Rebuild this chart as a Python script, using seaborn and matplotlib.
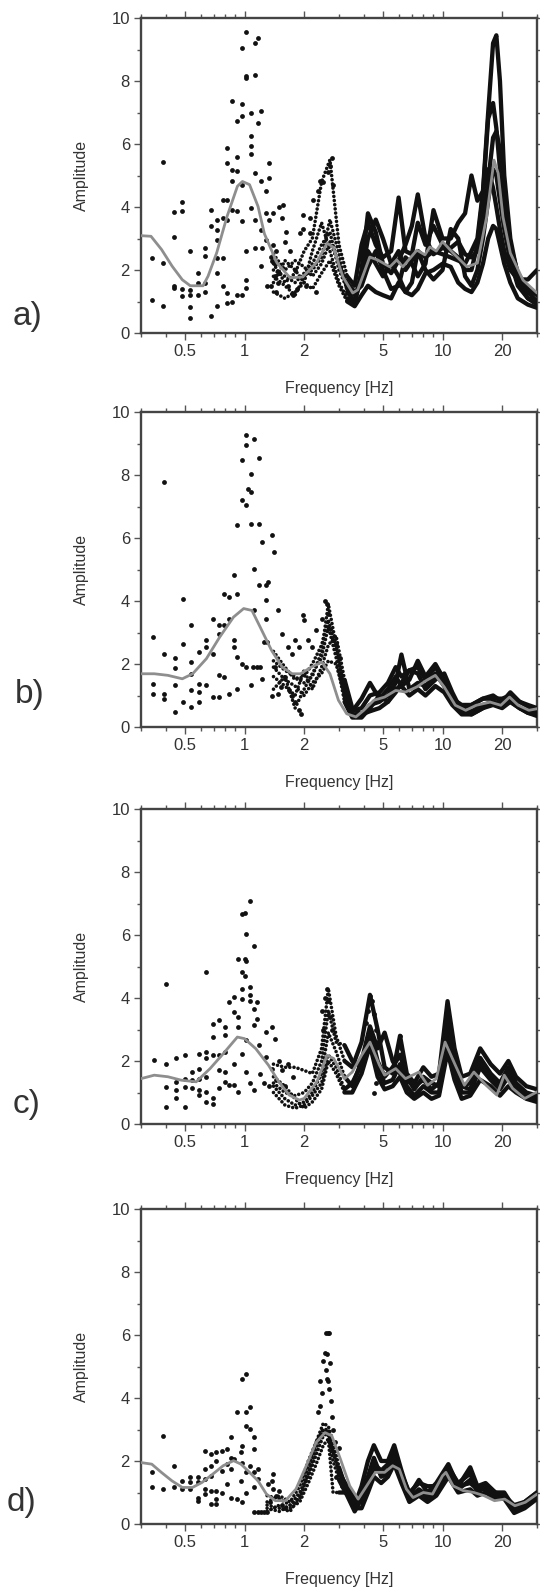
import matplotlib
matplotlib.use("Agg")
import matplotlib.pyplot as plt
import pandas as pd
import seaborn as sns
from matplotlib.ticker import FixedLocator, FixedFormatter, NullFormatter

sns.set_style("ticks")
plt.rcParams["font.family"] = ["Liberation Sans", "DejaVu Sans"]

# ---------------------------------------------------------------- panel a
# individual low-frequency spectral ratio samples (Hz, amplitude)
a_dots = [
    (0.341, 2.38), (0.341, 1.06), (0.389, 5.43), (0.389, 2.22), (0.389, 0.87),
    (0.439, 3.84), (0.439, 3.05), (0.439, 1.48), (0.439, 1.43), (0.485, 4.16),
    (0.485, 3.86), (0.485, 1.40), (0.485, 1.16), (0.532, 2.59), (0.532, 1.38),
    (0.532, 1.22), (0.532, 0.83), (0.532, 0.48), (0.585, 1.90), (0.585, 1.59),
    (0.585, 1.22), (0.634, 2.70), (0.634, 2.43), (0.634, 1.59), (0.634, 1.29),
    (0.681, 3.92), (0.681, 3.39), (0.681, 0.53), (0.723, 3.60), (0.723, 3.28),
    (0.723, 2.96), (0.723, 2.38), (0.723, 1.90), (0.723, 0.85), (0.776, 3.65),
    (0.776, 4.23), (0.776, 2.38), (0.776, 1.48), (0.816, 5.87), (0.816, 5.40),
    (0.816, 4.23), (0.816, 3.60), (0.816, 1.27), (0.816, 0.95), (0.868, 7.35),
    (0.868, 5.16), (0.868, 4.81), (0.868, 3.92), (0.868, 1.00), (0.921, 6.72),
    (0.921, 5.60), (0.921, 5.13), (0.921, 3.86), (0.921, 1.22), (0.971, 9.05),
    (0.971, 7.28), (0.971, 6.88), (0.971, 4.71), (0.971, 3.54), (0.971, 1.22),
    (1.017, 9.55), (1.017, 8.15), (1.017, 8.10), (1.017, 2.59), (1.017, 1.69),
    (1.017, 1.43), (1.08, 6.98), (1.08, 6.24), (1.08, 5.93), (1.08, 5.69),
    (1.08, 3.97), (1.124, 9.20), (1.124, 8.20), (1.124, 5.08), (1.124, 3.60),
    (1.124, 2.70), (1.17, 9.37), (1.17, 6.67), (1.218, 7.04), (1.218, 4.81),
    (1.218, 3.28), (1.218, 2.12), (1.22, 2.70), (1.28, 4.50), (1.28, 3.81),
    (1.28, 2.96), (1.30, 1.48), (1.33, 5.40), (1.33, 4.92), (1.33, 3.60),
    (1.37, 2.27), (1.36, 2.40), (1.36, 1.50), (1.39, 3.80), (1.40, 2.80),
    (1.43, 1.80), (1.42, 2.20), (1.45, 2.60), (1.45, 1.30), (1.48, 1.60),
    (1.50, 1.90), (1.50, 4.00), (1.55, 3.65), (1.57, 4.06), (1.60, 2.90),
    (1.62, 3.20), (1.65, 1.50), (1.70, 2.60), (1.75, 1.20), (1.80, 2.00),
    (1.85, 1.40), (1.91, 3.17), (1.97, 3.30), (1.97, 3.76), (2.05, 1.50),
    (2.14, 3.65), (2.14, 3.17), (2.23, 4.23), (2.30, 1.30), (2.35, 4.50),
    (2.41, 4.81), (2.50, 4.80), (2.63, 5.10), (2.70, 5.30), (2.75, 5.55),
    (2.80, 4.70),
]
# station curves sampled on a common frequency grid
a_grid = [1.4, 1.6, 1.8, 2.0, 2.2, 2.45, 2.7, 3.0, 3.3, 3.6, 3.9, 4.2, 4.6,
          5.0, 5.5, 6.0, 6.5, 7.0, 7.5, 8.2, 9.0, 10.0, 11.0, 12.0, 13.0,
          14.0, 15.0, 16.0, 17.0, 18.0, 18.7, 19.5, 20.5, 22.0, 24.0, 27.0, 30.0]
a_curves = [
    [2.0, 1.8, 1.6, 1.9, 2.2, 2.8, 3.2, 2.0, 1.4, 1.2, 1.6, 2.6, 2.2, 1.8, 2.2,
     2.6, 2.0, 2.3, 2.6, 2.4, 2.6, 2.5, 2.4, 2.3, 2.2, 2.6, 3.0, 4.5, 7.0, 9.2,
     9.45, 8.0, 5.0, 3.0, 1.8, 1.3, 1.0],
    [1.6, 2.3, 2.0, 1.6, 2.6, 3.5, 2.6, 1.6, 1.1, 0.9, 2.0, 3.8, 3.2, 2.2, 1.9,
     2.3, 2.8, 3.4, 4.4, 3.0, 2.5, 2.7, 2.6, 2.4, 2.0, 2.0, 2.8, 4.4, 6.8, 7.3,
     6.5, 5.2, 3.5, 2.3, 1.6, 1.1, 0.9],
    [2.5, 2.0, 2.3, 2.1, 1.8, 2.2, 2.9, 2.2, 1.6, 1.3, 1.5, 2.1, 2.6, 2.0, 1.4,
     1.5, 2.4, 2.2, 1.8, 2.2, 3.9, 3.0, 3.0, 3.5, 3.8, 5.0, 4.2, 4.5, 5.2, 4.6,
     4.0, 3.3, 2.6, 2.0, 1.7, 1.7, 2.0],
    [1.3, 1.1, 1.3, 1.6, 1.4, 1.9, 2.3, 1.5, 1.0, 0.85, 1.2, 1.5, 1.3, 1.2, 1.1,
     1.6, 1.3, 1.2, 1.4, 1.9, 2.0, 2.2, 2.1, 1.6, 1.4, 1.3, 1.6, 2.2, 3.0, 3.4,
     3.3, 2.8, 2.2, 1.6, 1.1, 0.9, 0.8],
    [2.2, 1.6, 1.9, 2.6, 3.0, 4.8, 5.5, 2.8, 1.8, 1.5, 2.8, 3.5, 2.8, 2.4, 2.6,
     4.3, 2.6, 2.5, 3.5, 2.8, 3.4, 2.8, 2.7, 2.9, 2.5, 2.4, 2.6, 3.5, 4.8, 6.2,
     6.4, 5.8, 4.5, 2.8, 1.9, 1.4, 1.2],
    [1.8, 1.5, 1.2, 1.8, 2.0, 2.4, 3.6, 2.5, 1.3, 1.0, 1.8, 3.0, 3.6, 3.0, 2.2,
     1.8, 1.3, 1.6, 2.6, 2.0, 1.7, 2.0, 3.3, 3.0, 1.8, 1.5, 2.0, 3.0, 4.2, 5.2,
     5.0, 4.2, 3.3, 2.3, 1.5, 1.1, 1.0],
]
a_mean = [
    (0.30, 3.09), (0.337, 3.07), (0.381, 2.65), (0.431, 2.12), (0.485, 1.69),
    (0.532, 1.50), (0.617, 1.50), (0.654, 1.80), (0.723, 2.54), (0.816, 3.70),
    (0.921, 4.66), (0.976, 4.81), (1.06, 4.71), (1.17, 4.02), (1.26, 3.15),
    (1.46, 2.22), (1.70, 1.75), (1.97, 1.78), (2.32, 2.25), (2.61, 2.85),
    (2.80, 2.73), (3.14, 1.78), (3.52, 1.27), (3.73, 1.37), (4.29, 2.41),
    (4.70, 2.32), (5.42, 2.10), (5.87, 2.32), (6.30, 2.10), (7.42, 2.63),
    (8.15, 2.48), (8.63, 2.73), (9.30, 2.60), (10.0, 2.90), (11.3, 2.54),
    (13.3, 2.10), (15.0, 2.22), (16.7, 3.68), (18.2, 5.49), (19.1, 5.07),
    (20.2, 3.68), (22.0, 2.54), (25.5, 1.68), (30.0, 1.27),
]

# ---------------------------------------------------------------- panel b
b_dots = [
    (0.344, 2.86), (0.344, 1.35), (0.344, 1.06), (0.393, 7.78), (0.393, 2.33),
    (0.393, 1.06), (0.393, 0.90), (0.444, 2.20), (0.444, 1.88), (0.444, 1.32),
    (0.444, 0.48), (0.491, 4.07), (0.491, 2.65), (0.491, 0.79), (0.536, 3.23),
    (0.536, 2.06), (0.536, 1.69), (0.536, 1.19), (0.536, 0.63), (0.587, 2.38),
    (0.587, 1.35), (0.587, 1.11), (0.587, 0.79), (0.636, 2.75), (0.636, 2.54),
    (0.636, 1.32), (0.695, 3.44), (0.695, 2.33), (0.695, 0.95), (0.739, 3.23),
    (0.739, 2.96), (0.739, 1.64), (0.739, 0.95), (0.789, 4.23), (0.789, 3.23),
    (0.789, 1.59), (0.83, 4.13), (0.83, 3.44), (0.83, 1.06), (0.88, 4.81),
    (0.88, 2.75), (0.88, 2.54), (0.92, 6.40), (0.92, 4.23), (0.92, 2.22),
    (0.92, 1.22), (0.97, 8.47), (0.97, 7.20), (0.97, 2.01), (1.02, 9.26),
    (1.02, 8.94), (1.02, 7.04), (1.02, 1.90), (1.04, 7.57), (1.08, 7.46),
    (1.08, 8.04), (1.08, 6.46), (1.08, 1.32), (1.12, 9.15), (1.12, 5.03),
    (1.12, 3.70), (1.18, 8.55), (1.18, 6.46), (1.18, 4.50), (1.22, 5.87),
    (1.22, 1.53), (1.28, 4.50), (1.28, 4.02), (1.28, 3.44), (1.32, 4.60),
    (1.37, 6.08), (1.41, 5.56), (1.47, 3.70), (1.47, 1.06), (1.55, 2.96),
    (1.66, 2.54), (1.74, 2.33), (1.80, 2.75), (1.89, 2.54), (1.97, 3.54),
    (2.00, 3.39), (1.89, 0.53), (1.80, 0.79), (1.74, 1.00), (1.92, 0.42),
    (2.10, 2.75), (2.20, 2.54), (2.30, 3.07), (2.45, 3.44), (2.55, 4.00),
    (2.60, 3.90), (2.65, 3.60), (2.70, 3.10), (2.90, 2.65), (3.05, 2.20),
    (1.43, 1.90), (1.52, 1.27), (1.37, 1.00), (1.60, 1.59), (1.68, 1.16),
    (1.10, 1.90), (1.15, 1.90), (1.20, 1.90), (1.25, 2.70), (1.30, 2.70),
]
b_grid = [1.4, 1.6, 1.8, 2.0, 2.2, 2.45, 2.65, 2.9, 3.2, 3.5, 3.9, 4.3, 4.8,
          5.3, 5.8, 6.2, 6.8, 7.5, 8.2, 9.2, 10.2, 11.2, 12.5, 14.0, 16.0,
          18.0, 20.0, 22.0, 24.5, 27.0, 30.0]
b_curves = [
    [2.1, 1.8, 1.6, 1.4, 1.6, 2.4, 3.9, 2.6, 1.0, 0.5, 0.9, 1.4, 0.9, 1.2, 1.6,
     1.3, 1.5, 2.1, 1.6, 2.0, 1.5, 0.9, 0.6, 0.7, 0.9, 1.0, 0.8, 1.1, 0.8, 0.7, 0.6],
    [1.6, 1.3, 1.0, 1.8, 1.2, 1.9, 2.6, 2.9, 1.5, 0.6, 0.4, 0.7, 0.8, 1.0, 1.4,
     2.3, 1.2, 1.4, 1.3, 1.7, 1.3, 0.8, 0.5, 0.5, 0.7, 0.8, 0.7, 0.9, 0.6, 0.5, 0.45],
    [1.2, 1.6, 0.6, 1.2, 1.7, 2.2, 3.2, 2.2, 0.8, 0.3, 0.3, 0.6, 1.0, 0.8, 1.1,
     1.4, 1.8, 1.7, 1.2, 1.5, 1.7, 1.1, 0.5, 0.4, 0.6, 0.8, 0.7, 0.8, 0.6, 0.45, 0.4],
    [1.9, 1.5, 1.3, 1.0, 1.4, 1.7, 2.1, 2.0, 1.0, 0.4, 0.4, 0.5, 0.6, 0.8, 1.2,
     1.3, 1.0, 1.2, 1.0, 1.3, 1.1, 0.7, 0.4, 0.4, 0.6, 0.7, 0.6, 0.8, 0.6, 0.45, 0.35],
    [2.4, 1.9, 1.5, 1.6, 2.0, 2.6, 3.4, 2.5, 1.2, 0.5, 0.6, 1.0, 1.1, 1.4, 1.9,
     1.6, 1.8, 1.9, 1.5, 1.9, 1.5, 0.9, 0.7, 0.7, 0.9, 0.9, 0.9, 1.0, 0.8, 0.65, 0.55],
]
b_mean = [
    (0.30, 1.69), (0.35, 1.69), (0.41, 1.64), (0.485, 1.53), (0.547, 1.69),
    (0.642, 2.17), (0.75, 2.86), (0.88, 3.49), (0.99, 3.76), (1.09, 3.70),
    (1.20, 3.17), (1.37, 2.43), (1.55, 1.90), (1.74, 1.69), (1.92, 1.69),
    (2.17, 1.90), (2.46, 2.06), (2.70, 1.69), (2.98, 0.85), (3.28, 0.42),
    (3.65, 0.32), (4.00, 0.53), (4.50, 0.85), (5.10, 0.95), (5.80, 1.16),
    (6.50, 1.11), (7.40, 1.27), (8.30, 1.48), (9.20, 1.64), (10.2, 1.27),
    (11.6, 0.69), (13.1, 0.53), (14.8, 0.69), (17.4, 0.79), (19.7, 0.69),
    (21.8, 0.95), (24.1, 0.69), (27.3, 0.53), (30.0, 0.58),
]

# ---------------------------------------------------------------- panel c
c_dots = [
    (0.349, 2.02), (0.40, 4.45), (0.40, 1.92), (0.40, 1.18), (0.40, 0.55),
    (0.449, 2.10), (0.449, 1.34), (0.449, 1.07), (0.449, 0.81), (0.50, 2.18),
    (0.50, 1.44), (0.50, 1.18), (0.50, 0.55), (0.54, 1.65), (0.54, 1.39),
    (0.54, 1.13), (0.59, 2.23), (0.59, 1.76), (0.59, 1.44), (0.59, 1.07),
    (0.59, 0.92), (0.64, 4.84), (0.64, 2.29), (0.64, 2.08), (0.64, 1.50),
    (0.64, 1.02), (0.64, 0.71), (0.695, 3.18), (0.695, 2.76), (0.695, 2.18),
    (0.695, 0.81), (0.695, 0.65), (0.747, 3.29), (0.747, 2.18), (0.747, 1.71),
    (0.747, 1.13), (0.80, 3.08), (0.80, 2.81), (0.80, 2.29), (0.80, 1.65),
    (0.80, 1.34), (0.83, 3.87), (0.83, 1.23), (0.88, 4.03), (0.88, 3.55),
    (0.88, 1.92), (0.88, 1.23), (0.93, 5.24), (0.93, 3.39), (0.93, 3.08),
    (0.93, 1.02), (0.97, 6.66), (0.97, 4.82), (0.97, 4.29), (0.97, 3.97),
    (0.97, 2.23), (1.00, 6.71), (1.00, 5.24), (1.00, 4.71), (1.02, 6.03),
    (1.02, 5.18), (1.02, 2.66), (1.02, 1.65), (1.07, 7.08), (1.07, 4.34),
    (1.07, 4.08), (1.07, 3.92), (1.07, 1.29), (1.11, 5.66), (1.11, 3.66),
    (1.11, 3.13), (1.11, 1.07), (1.15, 3.87), (1.15, 3.34), (1.18, 2.50),
    (1.29, 2.92), (1.29, 2.13), (1.37, 3.08), (1.43, 2.71), (1.50, 2.00),
    (1.45, 1.40), (1.55, 1.70), (1.60, 1.20), (1.65, 1.90), (1.75, 1.50),
    (1.20, 1.60), (1.25, 1.30), (1.33, 1.20), (1.38, 1.75),
    (2.45, 3.60), (2.50, 3.00), (2.55, 4.00), (2.60, 4.30), (2.65, 3.90),
    (2.70, 3.40), (2.75, 3.00), (4.10, 3.20), (4.20, 3.60), (4.30, 4.05),
    (4.40, 3.90), (4.50, 3.50), (4.60, 3.00), (4.70, 2.60), (4.50, 1.00),
    (4.60, 1.30), (6.00, 2.60), (6.10, 2.80), (6.20, 2.40), (6.30, 2.00),
]
c_grid = [1.4, 1.6, 1.8, 2.0, 2.2, 2.45, 2.65, 2.9, 3.2, 3.5, 3.9, 4.3, 4.7,
          5.1, 5.6, 6.1, 6.6, 7.2, 8.0, 8.8, 9.6, 10.6, 11.5, 12.5, 13.8,
          15.5, 17.5, 19.5, 21.5, 23.5, 26.5, 30.0]
c_curves = [
    [1.9, 1.8, 1.8, 1.7, 1.6, 2.4, 4.3, 2.8, 2.0, 1.8, 2.6, 4.1, 3.0, 1.8, 1.6,
     2.8, 1.6, 1.3, 1.8, 1.5, 1.6, 3.9, 2.4, 1.5, 1.6, 2.4, 1.9, 1.6, 2.0, 1.5, 1.2, 1.1],
    [1.2, 0.8, 0.6, 0.7, 1.0, 1.6, 2.9, 2.3, 1.5, 1.2, 2.0, 3.1, 2.4, 2.9, 2.0,
     1.6, 1.4, 1.2, 1.4, 1.1, 1.3, 3.4, 2.1, 1.2, 1.3, 2.1, 1.6, 1.3, 1.8, 1.3, 1.0, 0.9],
    [1.0, 0.6, 0.5, 0.6, 0.9, 1.3, 2.2, 1.8, 1.1, 1.3, 1.9, 2.8, 1.8, 1.3, 1.4,
     1.9, 1.2, 0.9, 1.2, 1.0, 1.0, 2.8, 1.7, 1.0, 1.0, 1.8, 1.4, 1.1, 1.5, 1.1, 0.9, 0.8],
    [1.5, 1.2, 0.8, 0.5, 0.7, 1.1, 2.0, 1.6, 1.0, 1.0, 1.6, 2.5, 1.5, 1.1, 1.2,
     1.5, 1.0, 0.8, 1.0, 0.8, 0.9, 2.3, 1.4, 0.8, 0.9, 1.4, 1.2, 0.9, 1.2, 1.0, 0.8, 0.7],
    [1.3, 1.0, 0.9, 1.0, 1.3, 2.0, 3.6, 2.6, 2.5, 2.0, 1.8, 3.0, 2.0, 1.5, 1.8,
     2.2, 1.5, 1.1, 1.5, 1.3, 1.2, 3.0, 2.0, 1.2, 1.1, 2.0, 1.5, 1.2, 1.6, 1.2, 0.9, 0.8],
]
c_mean = [
    (0.30, 1.44), (0.35, 1.55), (0.41, 1.50), (0.48, 1.39), (0.57, 1.34),
    (0.67, 1.76), (0.78, 2.23), (0.92, 2.76), (1.00, 2.71), (1.14, 2.39),
    (1.32, 1.87), (1.49, 1.34), (1.68, 0.92), (1.89, 0.76), (2.00, 0.81),
    (2.32, 1.34), (2.61, 2.18), (2.82, 2.08), (3.20, 1.44), (3.50, 1.65),
    (3.90, 2.18), (4.30, 2.60), (4.80, 1.87), (5.10, 1.55), (5.80, 1.76),
    (6.50, 1.44), (7.60, 1.65), (8.40, 1.23), (9.30, 1.44), (10.3, 2.60),
    (11.6, 1.87), (12.9, 1.23), (14.4, 1.65), (16.6, 1.23), (18.8, 0.92),
    (20.5, 1.55), (22.6, 1.13), (26.0, 0.81), (30.0, 1.02),
]

# ---------------------------------------------------------------- panel d
d_dots = [
    (0.341, 1.64), (0.341, 1.16), (0.389, 2.80), (0.389, 1.11), (0.439, 1.85),
    (0.439, 1.16), (0.485, 1.37), (0.485, 1.11), (0.532, 1.48), (0.532, 1.32),
    (0.532, 1.11), (0.585, 1.48), (0.585, 1.32), (0.585, 0.84), (0.585, 0.74),
    (0.634, 2.32), (0.634, 1.74), (0.634, 1.43), (0.634, 1.11), (0.634, 0.95),
    (0.68, 2.22), (0.68, 1.85), (0.68, 1.53), (0.68, 1.06), (0.68, 0.63),
    (0.72, 2.27), (0.72, 2.01), (0.72, 1.06), (0.72, 0.79), (0.72, 0.63),
    (0.77, 2.32), (0.77, 1.69), (0.77, 1.00), (0.816, 2.38), (0.816, 1.90),
    (0.816, 1.27), (0.855, 2.75), (0.855, 2.11), (0.855, 1.74), (0.855, 0.84),
    (0.88, 2.06), (0.92, 3.54), (0.92, 0.79), (0.96, 2.27), (0.96, 1.37),
    (0.97, 4.59), (0.97, 2.48), (0.97, 1.95), (0.97, 0.69), (1.02, 4.75),
    (1.02, 3.54), (1.02, 3.12), (1.02, 1.64), (1.02, 1.00), (1.06, 3.70),
    (1.06, 3.01), (1.06, 1.85), (1.12, 2.75), (1.12, 2.38), (1.12, 1.64),
    (1.12, 1.16), (1.17, 1.74), (1.17, 1.43), (1.12, 0.37), (1.17, 0.37),
    (1.21, 0.37), (1.26, 0.37), (1.30, 0.37), (1.32, 1.27), (1.39, 1.58),
    (1.37, 1.37), (1.40, 1.10), (1.45, 0.90), (1.50, 1.05), (1.55, 0.60),
    (1.60, 0.50), (1.35, 0.70),
    (2.59, 6.07), (2.63, 6.07), (2.66, 6.05), (2.55, 5.44), (2.50, 5.17),
    (2.70, 5.12), (2.60, 4.60), (2.65, 4.54), (2.40, 4.54), (2.45, 4.17),
    (2.40, 3.75), (2.35, 3.54), (2.68, 4.30), (2.72, 3.90), (2.75, 3.40),
    (2.58, 4.90), (2.62, 5.40), (2.80, 3.00), (2.85, 2.60), (3.00, 2.40),
    (2.90, 1.50), (3.10, 1.20),
]
d_grid = [1.3, 1.5, 1.7, 1.9, 2.1, 2.3, 2.5, 2.65, 2.8, 3.0, 3.3, 3.6, 3.9,
          4.2, 4.5, 4.9, 5.3, 5.7, 6.2, 6.8, 7.6, 8.4, 9.3, 10.7, 12.0, 13.8,
          15.0, 16.5, 18.5, 20.5, 23.0, 26.0, 30.0]
d_curves = [
    [0.6, 0.5, 0.4, 0.9, 1.8, 2.6, 3.2, 3.1, 2.6, 1.8, 1.0, 0.6, 1.2, 2.0, 2.5,
     2.0, 2.0, 2.5, 1.7, 0.9, 1.4, 1.0, 1.3, 1.9, 1.2, 1.8, 1.2, 1.3, 1.0, 1.0, 0.5, 0.7, 1.0],
    [0.9, 0.8, 0.6, 1.0, 1.5, 2.2, 2.8, 2.9, 2.3, 1.6, 1.2, 0.8, 0.7, 1.2, 1.8,
     1.6, 1.7, 2.3, 1.5, 0.8, 1.1, 0.9, 1.1, 1.7, 1.1, 1.4, 1.1, 1.1, 0.9, 0.9, 0.4, 0.6, 0.9],
    [0.4, 0.6, 0.5, 0.7, 1.3, 1.9, 2.5, 2.7, 1.0, 1.0, 1.0, 0.5, 0.5, 1.0, 1.5,
     1.3, 1.5, 1.9, 1.3, 0.7, 0.9, 0.7, 0.9, 1.5, 1.0, 1.1, 0.9, 1.0, 0.8, 0.8, 0.35, 0.5, 0.8],
    [0.7, 0.9, 0.7, 1.2, 2.0, 2.6, 3.0, 3.0, 2.4, 1.7, 1.1, 0.7, 1.0, 1.5, 2.1,
     1.5, 1.6, 2.0, 1.6, 1.0, 1.3, 1.2, 1.2, 1.8, 1.3, 1.6, 1.0, 1.2, 1.0, 0.9, 0.6, 0.7, 1.0],
    [0.5, 0.4, 0.6, 0.8, 1.6, 2.4, 3.0, 2.8, 2.0, 1.4, 0.9, 0.4, 0.8, 1.3, 1.9,
     1.7, 1.9, 2.2, 1.4, 0.8, 1.0, 0.8, 1.0, 1.6, 1.2, 1.3, 1.1, 1.2, 0.9, 0.85, 0.45, 0.6, 0.9],
]
d_mean = [
    (0.30, 1.95), (0.34, 1.90), (0.38, 1.64), (0.43, 1.37), (0.485, 1.16),
    (0.546, 1.16), (0.61, 1.32), (0.69, 1.58), (0.78, 1.85), (0.88, 2.01),
    (0.96, 1.90), (1.06, 1.64), (1.17, 1.37), (1.29, 0.95), (1.43, 0.74),
    (1.61, 0.74), (1.82, 1.11), (2.05, 1.85), (2.30, 2.59), (2.55, 2.90),
    (2.76, 2.80), (3.05, 2.06), (3.40, 1.21), (3.75, 0.79), (4.14, 1.21),
    (4.58, 1.64), (5.10, 1.64), (5.60, 1.85), (6.05, 1.74), (6.57, 1.11),
    (7.10, 0.84), (8.00, 1.00), (8.90, 0.95), (10.0, 1.53), (10.4, 1.64),
    (11.3, 1.21), (12.7, 1.06), (14.4, 1.00), (16.2, 0.90), (18.3, 0.74),
    (20.6, 0.79), (23.2, 0.58), (26.2, 0.69), (30.0, 0.95),
]

panel_labels = ["a)", "b)", "c)", "d)"]
x_major = [0.5, 1, 2, 5, 10, 20]
x_major_labels = ["0.5", "1", "2", "5", "10", "20"]
x_minor = [0.3, 0.4, 0.6, 0.7, 0.8, 0.9, 3, 4, 6, 7, 8, 9, 30]
y_major = [0, 2, 4, 6, 8, 10]
y_minor = [1, 3, 5, 7, 9]

panels = [
    (a_dots, a_grid, a_curves, a_mean, 3.3),
    (b_dots, b_grid, b_curves, b_mean, 3.2),
    (c_dots, c_grid, c_curves, c_mean, 3.2),
    (d_dots, d_grid, d_curves, d_mean, 3.0),
]

# figure geometry in pixels (540 x 1589 at 100 dpi)
W, H = 540, 1589
ax_left, ax_width, ax_height = 141, 396, 315
ax_tops = [18, 412, 809, 1209]
label_pos = [(13, 317), (15, 694), (13, 1105), (7, 1503)]

INK = "#111111"
TEXT = "#333333"


def curve_frame(grid, curves):
    rows = []
    for k, values in enumerate(curves):
        for f, v in zip(grid, values):
            rows.append((k, f, v))
    return pd.DataFrame(rows, columns=["curve", "freq", "amp"])


fig = plt.figure(figsize=(W / 100, H / 100), dpi=100)

for i, (dots, grid, curves, mean, split) in enumerate(panels):
    top = ax_tops[i]
    ax = fig.add_axes([ax_left / W, 1 - (top + ax_height) / H,
                       ax_width / W, ax_height / H])
    ax.set_xscale("log")

    dots_df = pd.DataFrame(dots, columns=["freq", "amp"])
    curves_df = curve_frame(grid, curves)
    low = curves_df[curves_df["freq"] <= split]
    high = curves_df[curves_df["freq"] >= split]
    mean_df = pd.DataFrame(mean, columns=["freq", "amp"])

    # sparse low-frequency samples
    sns.scatterplot(data=dots_df, x="freq", y="amp", ax=ax, color=INK,
                    s=12, linewidth=0, legend=False, zorder=3)

    # densely sampled mid band: rendered as rows of dots
    n0 = len(ax.lines)
    sns.lineplot(data=low, x="freq", y="amp", units="curve", estimator=None,
                 sort=False, ax=ax, color=INK, lw=2.6, legend=False, zorder=3)
    for ln in ax.lines[n0:]:
        ln.set_linestyle((0, (0.01, 1.15)))
        ln.set_dash_capstyle("round")

    # high band: samples merge into continuous heavy traces
    n0 = len(ax.lines)
    sns.lineplot(data=high, x="freq", y="amp", units="curve", estimator=None,
                 sort=False, ax=ax, color=INK, lw=3.1, legend=False, zorder=3)
    for ln in ax.lines[n0:]:
        ln.set_solid_capstyle("round")
        ln.set_solid_joinstyle("round")

    # average spectral ratio
    sns.lineplot(data=mean_df, x="freq", y="amp", estimator=None, sort=False,
                 ax=ax, color="#8e8e8e", lw=2.0, legend=False, zorder=4)

    ax.set_xlim(0.3, 30)
    ax.set_ylim(0, 10)
    ax.xaxis.set_major_locator(FixedLocator(x_major))
    ax.xaxis.set_major_formatter(FixedFormatter(x_major_labels))
    ax.xaxis.set_minor_locator(FixedLocator(x_minor))
    ax.xaxis.set_minor_formatter(NullFormatter())
    ax.yaxis.set_major_locator(FixedLocator(y_major))
    ax.yaxis.set_minor_locator(FixedLocator(y_minor))

    ax.tick_params(which="both", direction="out", top=True, right=True,
                   color="#555555", width=1.0, labelsize=12,
                   labelcolor=TEXT, pad=3)
    ax.tick_params(which="major", length=5)
    ax.tick_params(which="minor", length=3)
    for sp in ax.spines.values():
        sp.set_linewidth(1.7)
        sp.set_color("#444444")

    ax.set_xlabel("Frequency [Hz]", fontsize=11.5, color=TEXT, labelpad=16)
    ax.set_ylabel("Amplitude", fontsize=11.5, color=TEXT, labelpad=16)

    lx, ly = label_pos[i]
    fig.text(lx / W, 1 - ly / H, panel_labels[i], fontsize=24, color=TEXT,
             ha="left", va="center")

fig.savefig("out.png", dpi=100)
